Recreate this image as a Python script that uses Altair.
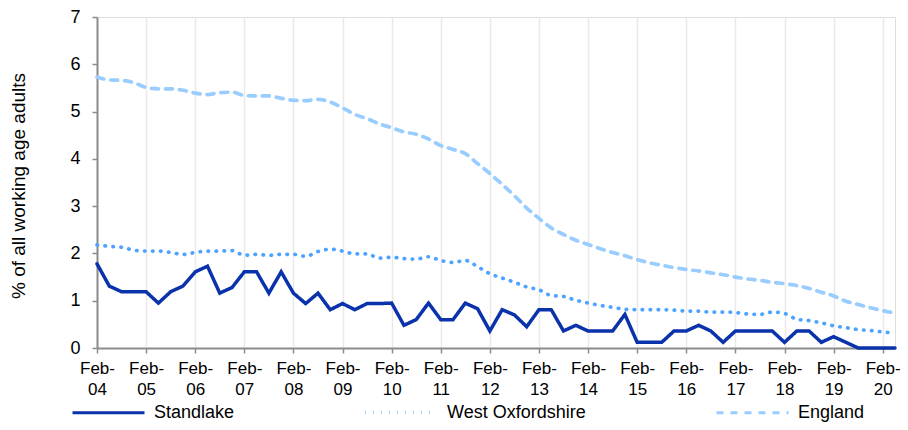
import json
import altair as alt
import pandas as pd

years = ["04", "05", "06", "07", "08", "09", "10", "11", "12", "13", "14", "15", "16", "17", "18", "19", "20"]
tick_labels = [["Feb-", y] for y in years]
quarters = list(range(66))

standlake = [1.78, 1.31, 1.19, 1.19, 1.19, 0.95, 1.19, 1.31, 1.61, 1.73,
             1.16, 1.28, 1.61, 1.61, 1.16, 1.61, 1.16, 0.94, 1.16, 0.81,
             0.94, 0.81, 0.94, 0.94, 0.95, 0.48, 0.60, 0.95, 0.60, 0.60,
             0.95, 0.83, 0.36, 0.81, 0.70, 0.45, 0.81, 0.81, 0.36, 0.48,
             0.36, 0.36, 0.36, 0.71, 0.12, 0.12, 0.12, 0.36, 0.36, 0.48,
             0.36, 0.12, 0.36, 0.36, 0.36, 0.36, 0.12, 0.36, 0.36, 0.12,
             0.24, 0.12, 0.0, 0.0, 0.0, 0.0]
west_oxfordshire = [2.18, 2.15, 2.13, 2.07, 2.05, 2.05, 2.02, 1.98, 2.02, 2.05,
                    2.05, 2.06, 1.96, 1.98, 1.96, 1.98, 1.98, 1.94, 2.04, 2.09,
                    2.05, 1.99, 1.99, 1.90, 1.92, 1.89, 1.88, 1.93, 1.85, 1.81,
                    1.85, 1.72, 1.57, 1.48, 1.39, 1.29, 1.23, 1.11, 1.09, 1.01,
                    0.95, 0.90, 0.86, 0.82, 0.81, 0.81, 0.81, 0.80, 0.78, 0.78,
                    0.76, 0.76, 0.75, 0.72, 0.71, 0.76, 0.73, 0.61, 0.58, 0.53,
                    0.47, 0.43, 0.39, 0.37, 0.34, 0.31]
england = [5.73, 5.67, 5.66, 5.61, 5.51, 5.48, 5.48, 5.45, 5.39, 5.36,
           5.40, 5.41, 5.34, 5.33, 5.33, 5.28, 5.24, 5.23, 5.26, 5.20,
           5.08, 4.94, 4.85, 4.74, 4.66, 4.57, 4.52, 4.42, 4.28, 4.20,
           4.11, 3.90, 3.69, 3.46, 3.22, 2.96, 2.74, 2.54, 2.40, 2.28,
           2.19, 2.10, 2.02, 1.95, 1.87, 1.80, 1.75, 1.70, 1.66, 1.63,
           1.59, 1.55, 1.50, 1.46, 1.43, 1.39, 1.36, 1.32, 1.26, 1.18,
           1.10, 0.99, 0.92, 0.85, 0.79, 0.74]

series_names = ["Standlake", "West Oxfordshire", "England"]
series_colors = ["#0a32aa", "#4da3ff", "#99ccff"]
series_dashes = [[1, 0], [0.5, 7.5], [7, 7]]

rows = []
for name, vals in zip(series_names, [standlake, west_oxfordshire, england]):
    for q, v in zip(quarters, vals):
        rows.append({"q": q, "value": v, "series": name})
df = pd.DataFrame(rows)

label_expr = json.dumps(tick_labels) + "[round(datum.value / 4)]"
FONT = "Liberation Sans"
PLOT_W = 798
PLOT_H = 331

x_enc = alt.X(
    "q:Q",
    scale=alt.Scale(domain=[0, 65], nice=False, zero=False),
    axis=alt.Axis(
        values=list(range(0, 65, 4)),
        labelExpr=label_expr,
        title=None,
        grid=True,
        gridColor="#e9e9e9",
        gridWidth=1.5,
        domainColor="#8c8c8c",
        domainWidth=2,
        tickColor="#8c8c8c",
        tickWidth=1.5,
        tickSize=5,
        labelPadding=7,
        labelFontSize=17,
        labelLineHeight=21,
        labelColor="#000000",
        labelFont=FONT,
        labelFlush=False,
        labelOverlap=False,
    ),
)
y_enc = alt.Y(
    "value:Q",
    scale=alt.Scale(domain=[0, 7], nice=False),
    axis=alt.Axis(
        values=list(range(0, 8)),
        title="% of all working age adults",
        titleFont=FONT,
        titleFontSize=19,
        titleFontWeight="normal",
        titleColor="#000000",
        titleX=-79,
        titleY=PLOT_H / 2 + 3,
        titleAngle=-90,
        titleAlign="center",
        titleBaseline="middle",
        grid=False,
        domainColor="#8c8c8c",
        domainWidth=2,
        tickColor="#8c8c8c",
        tickWidth=1.5,
        tickSize=5,
        labelPadding=12,
        labelFontSize=18,
        labelColor="#000000",
        labelFont=FONT,
    ),
)

legend = alt.Legend(
    title=None,
    orient="none",
    legendX=-26,
    legendY=358,
    direction="horizontal",
    columns=3,
    columnPadding=124,
    symbolType="stroke",
    symbolSize=5184,
    symbolStrokeWidth=3,
    labelFont=FONT,
    labelFontSize=18,
    labelColor="#000000",
    labelOffset=8,
    padding=0,
)

color_enc = alt.Color(
    "series:N",
    scale=alt.Scale(domain=series_names, range=series_colors),
    legend=legend,
)
dash_enc = alt.StrokeDash(
    "series:N",
    scale=alt.Scale(domain=series_names, range=series_dashes),
    legend=legend,
)

base = alt.Chart(df).encode(x=x_enc, y=y_enc, color=color_enc, strokeDash=dash_enc,
                            order=alt.Order("q:Q"))

solid = base.transform_filter(alt.datum.series == "Standlake").mark_line(
    strokeWidth=3.5, strokeCap="round", strokeJoin="miter")
smooth = base.transform_filter(alt.datum.series != "Standlake").mark_line(
    strokeWidth=3.7, strokeCap="round", interpolate="monotone")

chart = alt.layer(smooth, solid).properties(
    width=PLOT_W,
    height=PLOT_H,
    autosize=alt.AutoSizeParams(type="none"),
    padding={"left": 89, "top": 9, "right": 5, "bottom": 74},
).configure_view(stroke=None).configure(font=FONT)

chart.save("out.html", embed_options={"renderer": "svg", "actions": False})
